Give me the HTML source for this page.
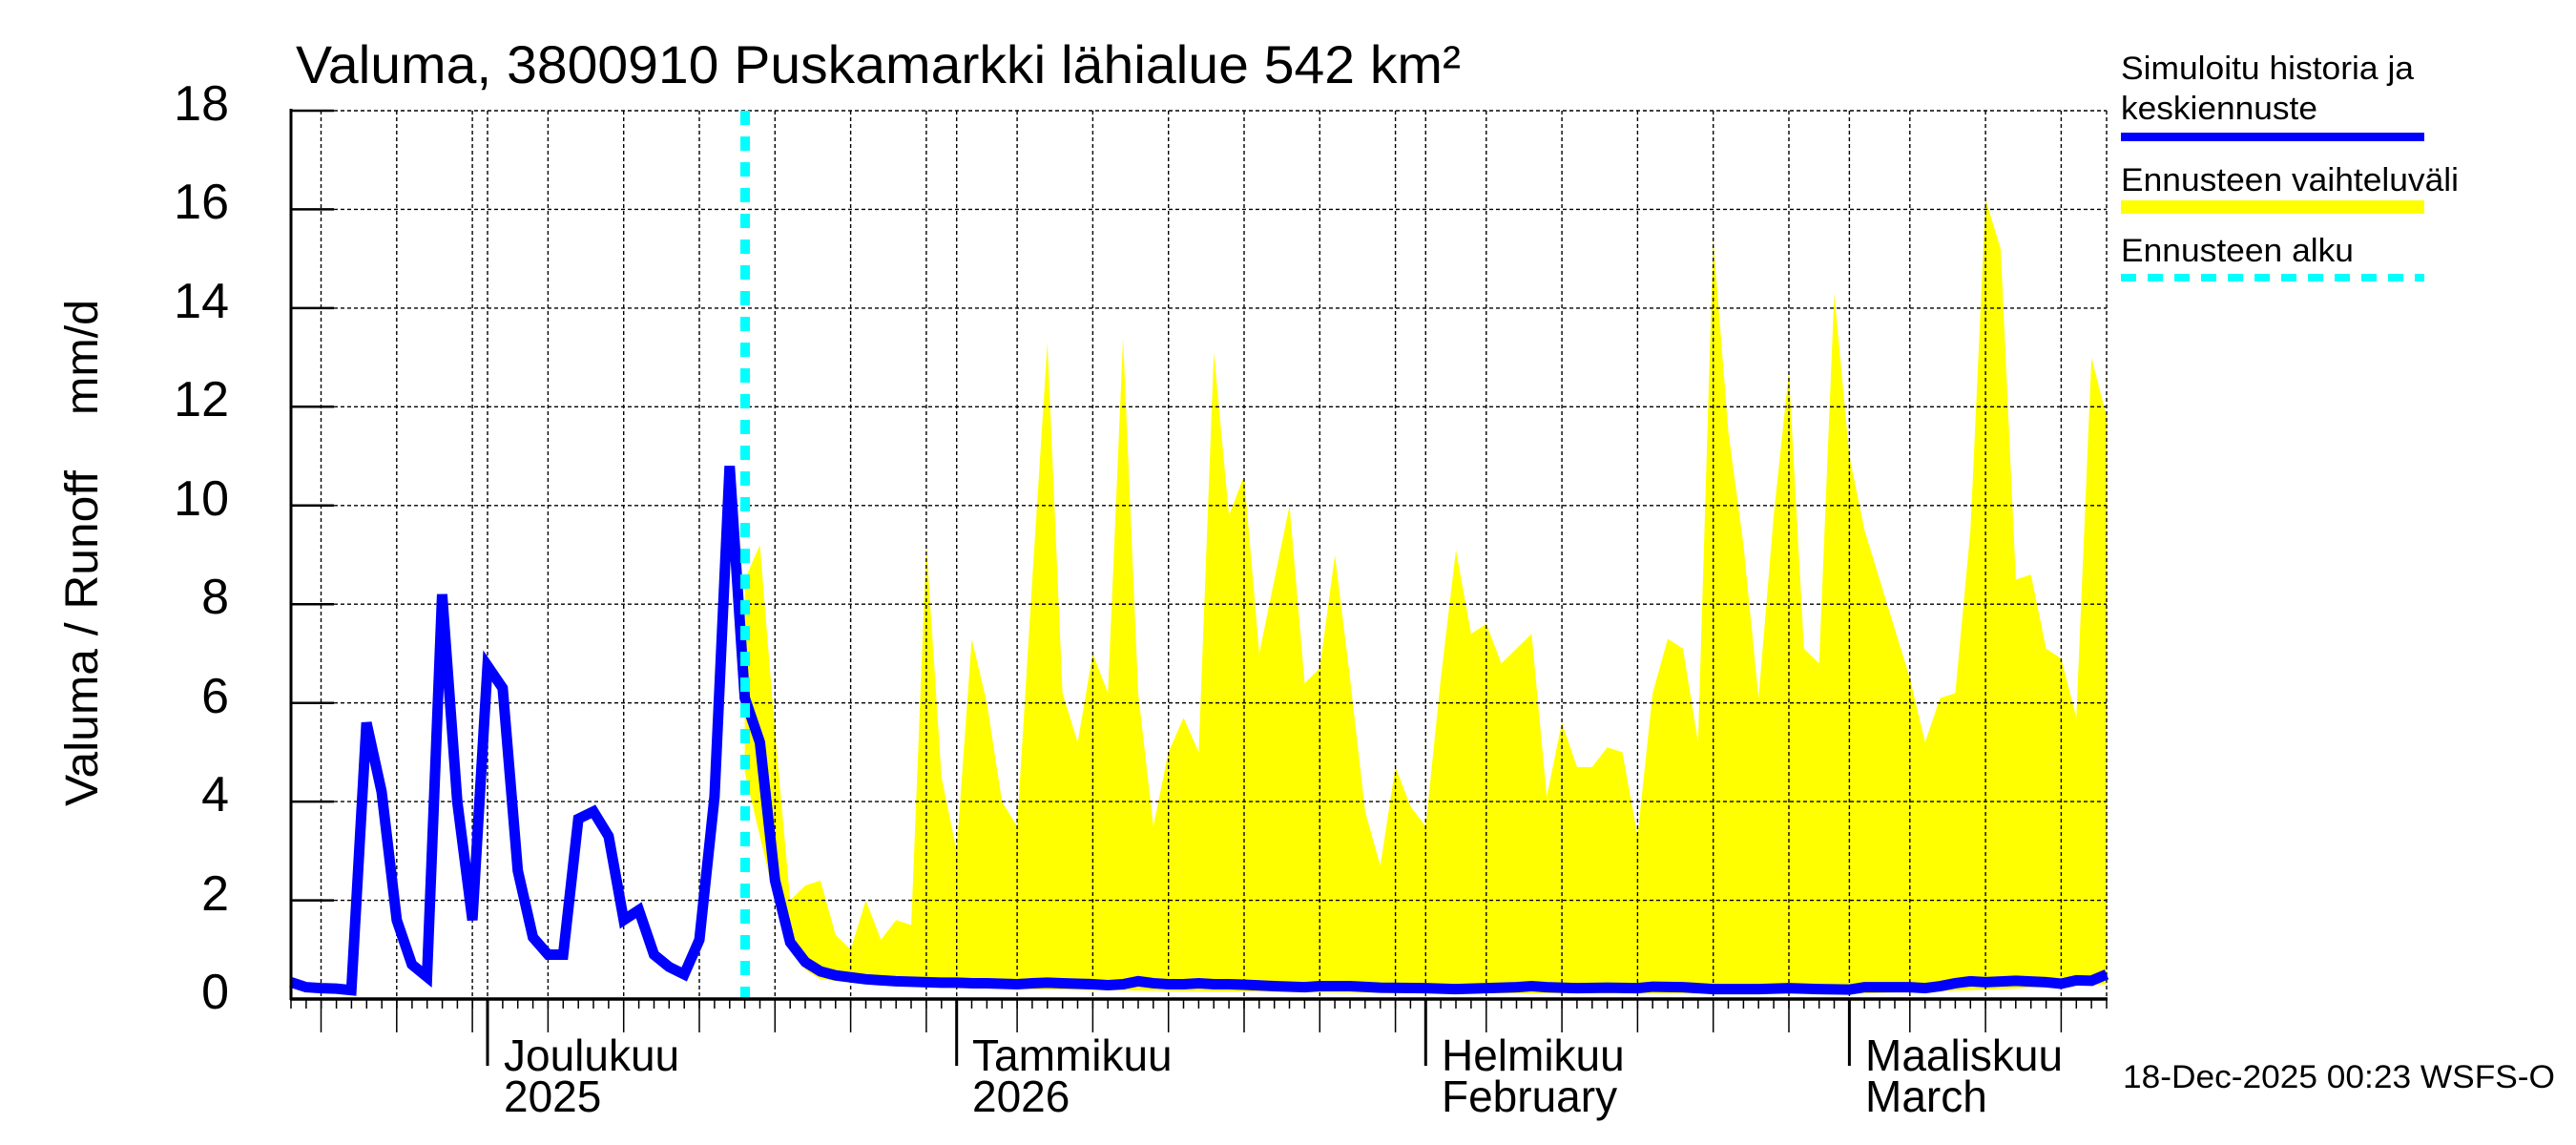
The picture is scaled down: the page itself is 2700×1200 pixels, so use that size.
<!DOCTYPE html>
<html><head><meta charset="utf-8"><style>
html,body{margin:0;padding:0;background:#fff}
svg{display:block}
text{font-family:"Liberation Sans",Arial,sans-serif;fill:#000}
</style></head><body>
<svg width="2700" height="1200" viewBox="0 0 2700 1200" xmlns="http://www.w3.org/2000/svg">
<rect width="2700" height="1200" fill="#fff"/>
<g transform="translate(511,1047) scale(15.86,-51.72)">
<polygon fill="#ffff00" stroke="none" points="17,8.5 18,9.2 19,5.4 20,2.0 21,2.3 22,2.4 23,1.3 24,1.0 25,2.0 26,1.2 27,1.6 28,1.5 29,9.2 30,4.5 31,3.0 32,7.3 33,6.0 34,4.0 35,3.5 36,8.5 37,13.3 38,6.2 39,5.2 40,7.0 41,6.2 42,13.4 43,6.2 44,3.5 45,5.0 46,5.7 47,5.0 48,13.1 49,9.8 50,10.6 51,7.0 52,8.5 53,10.0 54,6.4 55,6.7 56,9.0 57,6.5 58,3.8 59,2.7 60,4.7 61,3.9 62,3.5 63,6.5 64,9.1 65,7.4 66,7.6 67,6.8 68,7.1 69,7.4 70,4.1 71,5.6 72,4.7 73,4.7 74,5.1 75,5.0 76,3.3 77,6.2 78,7.3 79,7.1 80,5.2 81,15.4 82,11.5 83,9.2 84,6.1 85,9.8 86,12.7 87,7.1 88,6.8 89,14.3 90,11.0 91,9.5 92,8.5 93,7.5 94,6.5 95,5.2 96,6.1 97,6.2 98,9.5 99,16.2 100,15.2 101,8.5 102,8.6 103,7.1 104,6.9 105,5.7 106,13.0 107,11.8 107,0.3 100,0.2 90,0.1 60,0.12 40,0.18 30,0.22 25,0.3 22,0.4 21,0.6 20,1.0 19,2.0 18,3.3 17,4.6"/>
</g>
<g stroke="#000" stroke-width="1.4" stroke-dasharray="4,3">
<line x1="350" y1="116" x2="2208" y2="116"/>
<line x1="350" y1="219.4" x2="2208" y2="219.4"/>
<line x1="350" y1="322.9" x2="2208" y2="322.9"/>
<line x1="350" y1="426.3" x2="2208" y2="426.3"/>
<line x1="350" y1="529.8" x2="2208" y2="529.8"/>
<line x1="350" y1="633.2" x2="2208" y2="633.2"/>
<line x1="350" y1="736.7" x2="2208" y2="736.7"/>
<line x1="350" y1="840.1" x2="2208" y2="840.1"/>
<line x1="350" y1="943.6" x2="2208" y2="943.6"/>
<line x1="336.5" y1="116" x2="336.5" y2="1047"/>
<line x1="415.8" y1="116" x2="415.8" y2="1047"/>
<line x1="495.1" y1="116" x2="495.1" y2="1047"/>
<line x1="511" y1="116" x2="511" y2="1047"/>
<line x1="574.4" y1="116" x2="574.4" y2="1047"/>
<line x1="653.7" y1="116" x2="653.7" y2="1047"/>
<line x1="733" y1="116" x2="733" y2="1047"/>
<line x1="812.3" y1="116" x2="812.3" y2="1047"/>
<line x1="891.6" y1="116" x2="891.6" y2="1047"/>
<line x1="970.9" y1="116" x2="970.9" y2="1047"/>
<line x1="1002.7" y1="116" x2="1002.7" y2="1047"/>
<line x1="1066.1" y1="116" x2="1066.1" y2="1047"/>
<line x1="1145.4" y1="116" x2="1145.4" y2="1047"/>
<line x1="1224.7" y1="116" x2="1224.7" y2="1047"/>
<line x1="1304" y1="116" x2="1304" y2="1047"/>
<line x1="1383.3" y1="116" x2="1383.3" y2="1047"/>
<line x1="1462.6" y1="116" x2="1462.6" y2="1047"/>
<line x1="1494.3" y1="116" x2="1494.3" y2="1047"/>
<line x1="1557.8" y1="116" x2="1557.8" y2="1047"/>
<line x1="1637.1" y1="116" x2="1637.1" y2="1047"/>
<line x1="1716.4" y1="116" x2="1716.4" y2="1047"/>
<line x1="1795.7" y1="116" x2="1795.7" y2="1047"/>
<line x1="1875" y1="116" x2="1875" y2="1047"/>
<line x1="1938.4" y1="116" x2="1938.4" y2="1047"/>
<line x1="2001.8" y1="116" x2="2001.8" y2="1047"/>
<line x1="2081.1" y1="116" x2="2081.1" y2="1047"/>
<line x1="2160.4" y1="116" x2="2160.4" y2="1047"/>
<line x1="2208" y1="116" x2="2208" y2="1047"/>
</g>
<g stroke="#000" stroke-width="2.5">
<line x1="305" y1="116" x2="350" y2="116"/><line x1="305" y1="219.4" x2="350" y2="219.4"/><line x1="305" y1="322.9" x2="350" y2="322.9"/><line x1="305" y1="426.3" x2="350" y2="426.3"/><line x1="305" y1="529.8" x2="350" y2="529.8"/><line x1="305" y1="633.2" x2="350" y2="633.2"/><line x1="305" y1="736.7" x2="350" y2="736.7"/><line x1="305" y1="840.1" x2="350" y2="840.1"/><line x1="305" y1="943.6" x2="350" y2="943.6"/>
</g>
<g transform="translate(511,1047) scale(15.86,-51.72)">
<polyline fill="none" stroke="#0000ff" stroke-width="11" vector-effect="non-scaling-stroke" stroke-linejoin="miter" points="-13,0.34 -12,0.24 -11,0.22 -10,0.21 -9,0.18 -8,5.6 -7,4.2 -6,1.6 -5,0.7 -4,0.45 -3,8.2 -2,4.0 -1,1.6 0,6.75 1,6.3 2,2.6 3,1.25 4,0.9 5,0.9 6,3.65 7,3.8 8,3.3 9,1.6 10,1.8 11,0.9 12,0.65 13,0.5 14,1.2 15,4.1 16,10.8 17,6.1 18,5.2 19,2.4 20,1.15 21,0.75 22,0.56 23,0.48 24,0.44 25,0.4 26,0.38 27,0.36 28,0.35 29,0.34 30,0.33 31,0.33 32,0.32 33,0.32 34,0.31 35,0.3 36,0.32 37,0.33 38,0.32 39,0.31 40,0.3 41,0.28 42,0.3 43,0.36 44,0.32 45,0.3 46,0.3 47,0.32 48,0.3 49,0.3 50,0.29 52,0.26 54,0.24 55,0.26 57,0.26 59,0.23 62,0.22 64,0.2 66,0.22 68,0.24 69,0.26 70,0.24 72,0.22 74,0.23 76,0.22 77,0.25 79,0.24 81,0.2 84,0.2 86,0.22 88,0.2 90,0.19 91,0.24 94,0.24 95,0.22 96,0.26 97,0.32 98,0.36 99,0.34 101,0.37 103,0.34 104,0.31 105,0.38 106,0.37 107,0.5"/>
</g>
<line x1="781" y1="116" x2="781" y2="1047" stroke="#00ffff" stroke-width="10" stroke-dasharray="15,12"/>
<line x1="305" y1="114" x2="305" y2="1048" stroke="#000" stroke-width="3"/>
<line x1="304" y1="1047" x2="2209" y2="1047" stroke="#000" stroke-width="3.5"/>
<g stroke="#000" stroke-width="1.5">
<path d="M305 1047v10M320.9 1047v10M336.7 1047v10M352.6 1047v10M368.4 1047v10M384.3 1047v10M400.2 1047v10M416 1047v10M431.9 1047v10M447.7 1047v10M463.6 1047v10M479.4 1047v10M495.3 1047v10M511 1047v10M526.9 1047v10M542.7 1047v10M558.6 1047v10M574.4 1047v10M590.3 1047v10M606.2 1047v10M622 1047v10M637.9 1047v10M653.7 1047v10M669.6 1047v10M685.5 1047v10M701.3 1047v10M717.2 1047v10M733 1047v10M748.9 1047v10M764.8 1047v10M780.6 1047v10M796.5 1047v10M812.3 1047v10M828.2 1047v10M844 1047v10M859.9 1047v10M875.8 1047v10M891.6 1047v10M907.5 1047v10M923.3 1047v10M939.2 1047v10M955 1047v10M970.9 1047v10M986.8 1047v10M1002.7 1047v10M1018.5 1047v10M1034.4 1047v10M1050.2 1047v10M1066.1 1047v10M1081.9 1047v10M1097.8 1047v10M1113.7 1047v10M1129.5 1047v10M1145.4 1047v10M1161.2 1047v10M1177.1 1047v10M1193 1047v10M1208.8 1047v10M1224.7 1047v10M1240.5 1047v10M1256.4 1047v10M1272.2 1047v10M1288.1 1047v10M1304 1047v10M1319.8 1047v10M1335.7 1047v10M1351.5 1047v10M1367.4 1047v10M1383.3 1047v10M1399.1 1047v10M1415 1047v10M1430.8 1047v10M1446.7 1047v10M1462.6 1047v10M1478.4 1047v10M1494.3 1047v10M1510.1 1047v10M1526 1047v10M1541.9 1047v10M1557.8 1047v10M1573.6 1047v10M1589.5 1047v10M1605.3 1047v10M1621.2 1047v10M1637.1 1047v10M1652.9 1047v10M1668.8 1047v10M1684.6 1047v10M1700.5 1047v10M1716.4 1047v10M1732.2 1047v10M1748.1 1047v10M1763.9 1047v10M1779.8 1047v10M1795.7 1047v10M1811.5 1047v10M1827.4 1047v10M1843.2 1047v10M1859.1 1047v10M1875 1047v10M1890.8 1047v10M1906.7 1047v10M1922.5 1047v10M1938.4 1047v10M1954.2 1047v10M1970.1 1047v10M1986 1047v10M2001.8 1047v10M2017.7 1047v10M2033.5 1047v10M2049.4 1047v10M2065.3 1047v10M2081.1 1047v10M2097 1047v10M2112.8 1047v10M2128.7 1047v10M2144.6 1047v10M2160.4 1047v10M2176.3 1047v10M2192.1 1047v10M2208 1047v10"/>
<path d="M336.5 1047v35M415.8 1047v35M495.1 1047v35M574.4 1047v35M653.7 1047v35M733 1047v35M812.3 1047v35M891.6 1047v35M970.9 1047v35M1066.1 1047v35M1145.4 1047v35M1224.7 1047v35M1304 1047v35M1383.3 1047v35M1462.6 1047v35M1557.8 1047v35M1637.1 1047v35M1716.4 1047v35M1795.7 1047v35M1875 1047v35M2001.8 1047v35M2081.1 1047v35M2160.4 1047v35"/>
</g>
<g stroke="#000" stroke-width="3">
<path d="M511 1047v70M1002.7 1047v70M1494.3 1047v70M1938.4 1047v70"/>
</g>
<g font-size="52" text-anchor="end">
<text x="240" y="126">18</text><text x="240" y="229">16</text><text x="240" y="333">14</text><text x="240" y="436">12</text><text x="240" y="540">10</text><text x="240" y="643">8</text><text x="240" y="747">6</text><text x="240" y="850">4</text><text x="240" y="954">2</text><text x="240" y="1057">0</text>
</g>
<text transform="translate(102,845) rotate(-90)" font-size="48" textLength="352" lengthAdjust="spacingAndGlyphs">Valuma / Runoff</text>
<text transform="translate(102,435) rotate(-90)" font-size="48" textLength="121" lengthAdjust="spacingAndGlyphs">mm/d</text>
<text x="310" y="87" font-size="56" textLength="1221" lengthAdjust="spacingAndGlyphs">Valuma, 3800910 Puskamarkki lähialue 542 km²</text>
<g font-size="46">
<text x="528" y="1122">Joulukuu</text><text x="528" y="1165">2025</text>
<text x="1019" y="1122">Tammikuu</text><text x="1019" y="1165">2026</text>
<text x="1511" y="1122">Helmikuu</text><text x="1511" y="1165">February</text>
<text x="1955" y="1122">Maaliskuu</text><text x="1955" y="1165">March</text>
</g>
<g font-size="34">
<text x="2223" y="83" textLength="307" lengthAdjust="spacingAndGlyphs">Simuloitu historia ja</text>
<text x="2223" y="125" textLength="206" lengthAdjust="spacingAndGlyphs">keskiennuste</text>
<rect x="2223" y="139" width="318" height="9" fill="#0000ff"/>
<text x="2223" y="200" textLength="354" lengthAdjust="spacingAndGlyphs">Ennusteen vaihteluväli</text>
<rect x="2223" y="210" width="318" height="14" fill="#ffff00"/>
<text x="2223" y="274" textLength="244" lengthAdjust="spacingAndGlyphs">Ennusteen alku</text>
<line x1="2223" y1="291" x2="2541" y2="291" stroke="#00ffff" stroke-width="8" stroke-dasharray="16,12"/>
<text x="2225" y="1140" textLength="453" lengthAdjust="spacingAndGlyphs">18-Dec-2025 00:23 WSFS-O</text>
</g>
</svg>
</body></html>
